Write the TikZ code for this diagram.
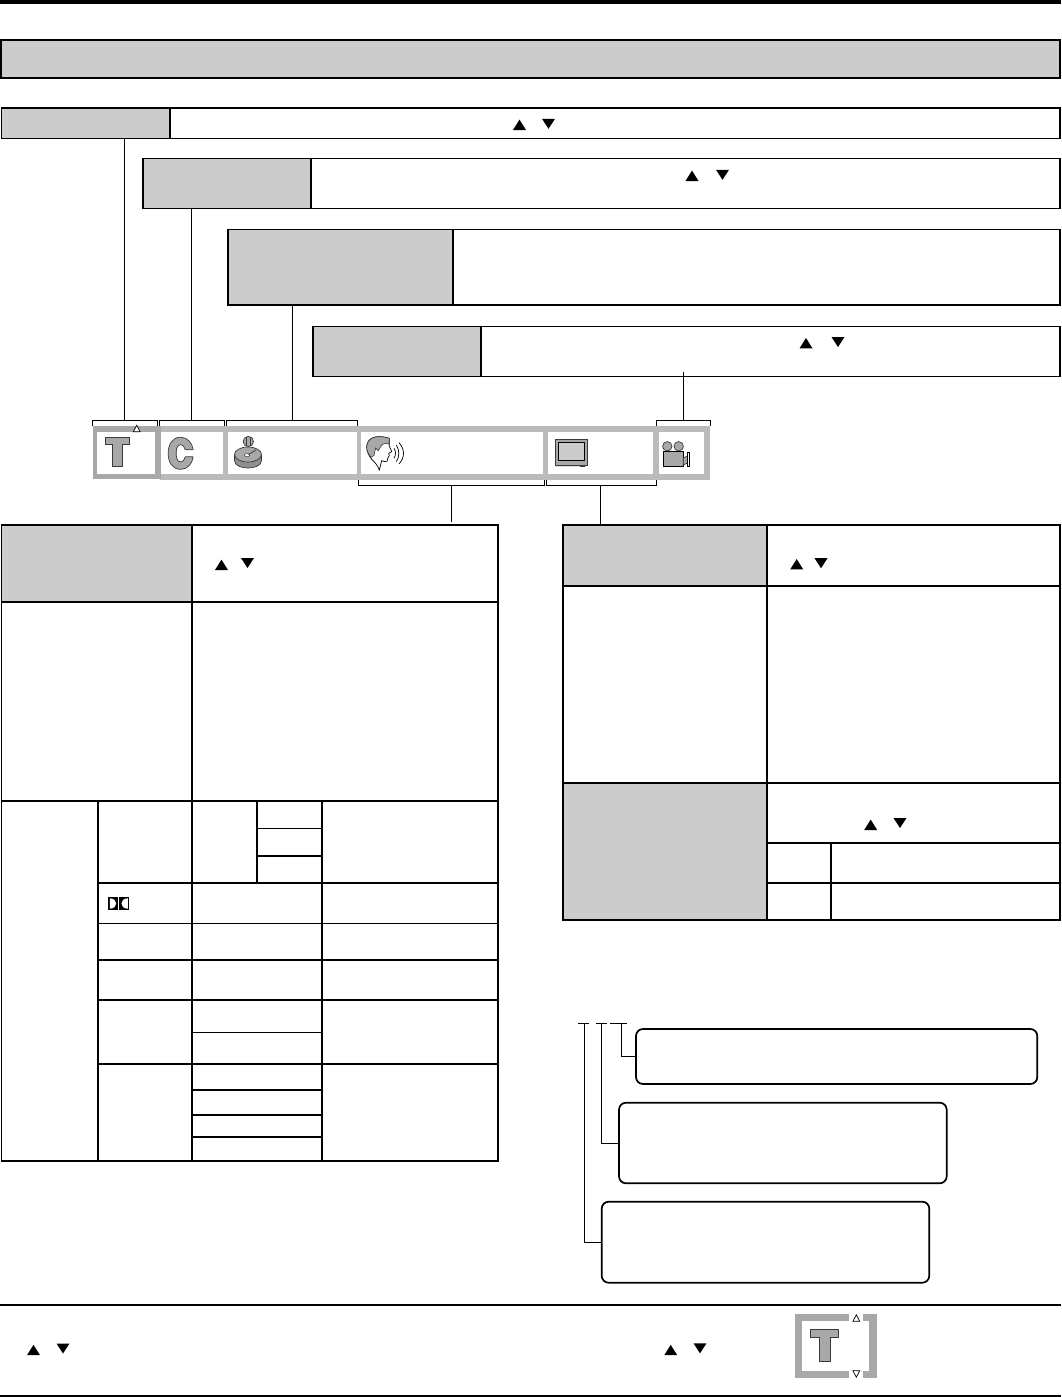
\documentclass[tikz,border=0pt]{standalone}
\usetikzlibrary{calc}
\definecolor{cellgray}{HTML}{CCCCCC}
\definecolor{barlight}{HTML}{BBBBBB}
\definecolor{bardark}{HTML}{A8A8A8}
\definecolor{iconedge}{HTML}{3A3A3A}
\tikzset{
  x=1pt,y=-1pt,
  boxline/.style={draw=black,line width=1.1pt,inner sep=0pt,outer sep=0pt},
  heavybox/.style={draw=black,line width=2pt,inner sep=0pt,outer sep=0pt},
  graycell/.style={fill=cellgray},
  whitecell/.style={fill=white},
  roundbox/.style={draw=black,line width=1.7pt,rounded corners=7pt,fill=white,inner sep=0pt,outer sep=0pt},
  lead/.style={draw=black,line width=1pt},
  grid/.style={draw=black,line width=1.8pt},
  gridthin/.style={draw=black,line width=1pt},
  rule/.style={draw=black,line width=2pt},
  icon/.style={fill=bardark,draw=iconedge,line width=.7pt},
  slot/.style={fill=white,draw=none,inner sep=0pt,outer sep=0pt},
}
% \rectnode{name}{x1}{y1}{x2}{y2}{style}
\newcommand{\rectnode}[6]{%
  \pgfmathsetmacro{\rw}{#4-(#2)}\pgfmathsetmacro{\rh}{#5-(#3)}%
  \pgfmathsetmacro{\rx}{(#2+#4)/2}\pgfmathsetmacro{\ry}{(#3+#5)/2}%
  \node[#6,minimum width=\rw pt,minimum height=\rh pt] (#1) at (\rx,\ry) {};}
\newcommand{\triup}[2]{\fill[black] (#1-6.5,#2+5.2) -- (#1+6.5,#2+5.2) -- (#1,#2-5.2) -- cycle;}
\newcommand{\tridown}[2]{\fill[black] (#1-6.5,#2-5) -- (#1+6.5,#2-5) -- (#1,#2+5) -- cycle;}
\newcommand{\triopenup}[2]{\draw[black,fill=white,line width=.7pt] (#1-3.4,#2+3.2) -- (#1+3.4,#2+3.2) -- (#1,#2-3.2) -- cycle;}
\newcommand{\triopendown}[2]{\draw[black,fill=white,line width=.7pt] (#1-3.4,#2-3.2) -- (#1+3.4,#2-3.2) -- (#1,#2+3.2) -- cycle;}
\begin{document}
\begin{tikzpicture}
\useasboundingbox (0,0) rectangle (1061,1397);
\fill[white] (0,0) rectangle (1061,1397);
\fill[black] (0,0) rectangle (1061,4);

% header
\rectnode{head}{1.2}{40}{1059.9}{78}{heavybox,graycell}

% stacked rows
\rectnode{rowA}{1.3}{108}{1060}{138.3}{boxline,whitecell}
\rectnode{rowAh}{1.3}{108}{170}{138.3}{boxline,graycell}
\rectnode{rowB}{143}{158.5}{1060}{208.3}{boxline,whitecell}
\rectnode{rowBh}{143}{158.5}{311}{208.3}{boxline,graycell}
\rectnode{rowC}{228}{229.7}{1060}{305}{boxline,whitecell}
\rectnode{rowCh}{228}{229.7}{453}{305}{boxline,graycell}
\rectnode{rowD}{313}{326.5}{1060}{376.3}{boxline,whitecell}
\rectnode{rowDh}{313}{326.5}{481}{376.3}{boxline,graycell}

\triup{519.5}{124.8}\tridown{548.5}{123.8}
\triup{692}{175.8}\tridown{722.5}{174.8}
\triup{806}{343.2}\tridown{838}{342}

% menu bar
\fill[barlight] (160,426) rectangle (710,479.5);
\fill[bardark] (92.5,426) rectangle (160.5,479);
\rectnode{slotT}{97}{431.7}{155}{474}{slot}
\rectnode{slotC}{161}{431.7}{223}{474}{slot}
\rectnode{slotK}{228}{431.7}{356.5}{474}{slot}
\rectnode{slotS}{361}{431.7}{542.6}{474}{slot}
\rectnode{slotV}{548}{431.7}{653}{474}{slot}
\rectnode{slotM}{659}{431.7}{704.3}{474}{slot}
\triopenup{136.7}{428.5}

% upper brackets
\draw[lead] (92.7,426) -- (92.7,420) -- (157.5,420) -- (157.5,426);
\draw[lead] (159.7,426) -- (159.7,420) -- (224.8,420) -- (224.8,426);
\draw[lead] (226.8,426) -- (226.8,420) -- (357.5,420) -- (357.5,426);
\draw[lead] (656.7,426) -- (656.7,420) -- (710,420) -- (710,426);
\coordinate (brT) at (124,420);
\coordinate (brC) at (191,420);
\coordinate (brK) at (292,420);
\coordinate (brM) at (683,420);
\coordinate (rowDstub) at (683,372);
\draw[lead] (brT) -- (brT |- rowA.south);
\draw[lead] (brC) -- (brC |- rowB.south);
\draw[lead] (brK) -- (brK |- rowC.south);
\draw[lead] (brM) -- (rowDstub);

% lower brackets
\draw[lead] (358.8,480) -- (358.8,485) -- (544.7,485) -- (544.7,480);
\draw[lead] (546.8,480) -- (546.8,485) -- (656,485) -- (656,480);
\coordinate (brS) at (451.8,485);
\coordinate (brV) at (600.7,485);
\coordinate (stubS) at (451.8,521.5);

% left table
\rectnode{ltA}{1.5}{525}{192}{602}{grid,graycell}
\rectnode{ltB}{192}{525}{498}{602}{grid,whitecell}
\rectnode{ltOuter}{1.5}{602}{498}{1160.7}{grid,whitecell}
\draw[lead] (brS) -- (stubS);
\draw[grid] (0.5,602) -- (1.5,602);
\draw[grid] (192,602) -- (192,801);
\draw[grid] (0.5,801) -- (498,801);
\draw[grid] (98,801) -- (98,1160.7);
\draw[grid] (192,801) -- (192,1160.7);
\draw[grid] (257,801) -- (257,882.7);
\draw[grid] (322,801) -- (322,1160.7);
\draw[gridthin] (257,828.3) -- (322,828.3);
\draw[grid] (257,855.7) -- (322,855.7);
\draw[grid] (98,882.7) -- (498,882.7);
\draw[gridthin] (98,923.3) -- (498,923.3);
\draw[grid] (98,960) -- (498,960);
\draw[grid] (98,1000) -- (498,1000);
\draw[gridthin] (192,1032.3) -- (322,1032.3);
\draw[grid] (98,1064) -- (498,1064);
\draw[grid] (192,1090) -- (322,1090);
\draw[grid] (192,1115) -- (322,1115);
\draw[grid] (192,1137) -- (322,1137);
\triup{221.5}{564.8}\tridown{247.5}{563}

% double-D mark
\fill[black] (108.3,897) rectangle (118.2,910);
\fill[black] (119.4,897) rectangle (129.3,910);
\fill[white] (109.8,898.3) .. controls (118.3,898.6) and (118.3,908.4) .. (109.8,908.7) -- cycle;
\fill[white] (127.8,898.3) .. controls (119.3,898.6) and (119.3,908.4) .. (127.8,908.7) -- cycle;

% right table
\rectnode{rtA}{563}{525}{767}{586}{grid,graycell}
\rectnode{rtB}{767}{525}{1060}{586}{grid,whitecell}
\rectnode{rtC}{563}{586}{767}{783}{grid,whitecell}
\rectnode{rtD}{767}{586}{1060}{783}{grid,whitecell}
\rectnode{rtE}{563}{783}{767}{920}{grid,graycell}
\rectnode{rtF}{767}{783}{1060}{843}{grid,whitecell}
\rectnode{rtG}{767}{843}{831}{883}{grid,whitecell}
\rectnode{rtH}{831}{843}{1060}{883}{grid,whitecell}
\rectnode{rtI}{767}{883}{831}{920}{grid,whitecell}
\rectnode{rtJ}{831}{883}{1060}{920}{grid,whitecell}
\draw[lead] (brV) -- (brV |- rtA.north);
\triup{796.7}{564.2}\tridown{821}{563.2}
\triup{870.7}{824.8}\tridown{900}{823}

% rounded notes and their leaders
\rectnode{noteA}{636}{1029}{1037.3}{1084}{roundbox}
\rectnode{noteB}{619}{1102.7}{946.7}{1183.3}{roundbox}
\rectnode{noteC}{601.7}{1201.7}{929.3}{1282.7}{roundbox}
\coordinate (tickA) at (621.7,1023.3);
\coordinate (tickB) at (601.7,1023.3);
\coordinate (tickC) at (584.3,1023.3);
\draw[lead] (610,1023.3) -- (626.7,1023.3);
\draw[lead] (596,1023.3) -- (606.7,1023.3);
\draw[lead] (578,1023.3) -- (589.3,1023.3);
\draw[lead] (tickA) |- (noteA.west);
\draw[lead] (tickB) |- (noteB.west);
\draw[lead] (tickC) |- (noteC.west);

% bottom band
\draw[rule] (0,1305) -- (1061,1305);
\draw[rule] (0,1396) -- (1061,1396);
\triup{33.5}{1350}\tridown{63}{1348.5}
\triup{670.7}{1350}\tridown{700}{1348.3}
\fill[bardark] (795,1314) rectangle (876.7,1377.7);
\fill[white] (801.7,1321) rectangle (869,1370.7);
\fill[white] (849.3,1314) rectangle (863.3,1378);
\triopenup{856.3}{1318}
\triopendown{856.3}{1374}
\draw[icon] (810.7,1329) -- (838.7,1329) -- (838.7,1337.3) -- (830,1337.3) -- (830,1361.7) -- (819.3,1361.7) -- (819.3,1337.3) -- (810.7,1337.3) -- cycle;

% T icon
\draw[icon] (105,437.7) -- (129,437.7) -- (129,444.3) -- (122.7,444.3) -- (122.7,466.3) -- (112.7,466.3) -- (112.7,444.3) -- (105,444.3) -- cycle;

% C icon
\begin{scope}[shift={(180.7,453.3)},y=1pt]
\draw[icon,rounded corners=.5pt] (4.4,3.5) -- (12.5,3.5) .. controls (11.5,10) and (7,16) .. (0,16)
  .. controls (-8,16) and (-12.5,9) .. (-12.5,0)
  .. controls (-12.5,-9) and (-8,-16) .. (0,-16)
  .. controls (7,-16) and (11.5,-10) .. (12.5,-3.5) -- (4.4,-3.5)
  .. controls (4,-6.5) and (2,-8.5) .. (0,-8.5)
  .. controls (-3,-8.5) and (-4.5,-5) .. (-4.5,0)
  .. controls (-4.5,5) and (-3,8.5) .. (0,8.5)
  .. controls (2,8.5) and (4,6.5) .. (4.4,3.5) -- cycle;
\end{scope}

% clock icon
\draw[icon] (248.3,441.5) circle[radius=5.2];
\draw[iconedge,line width=.6pt] (246.3,437) -- (246.3,446) (250.3,437) -- (250.3,446);
\draw[icon,fill=bardark!85!black] (234.5,455) -- (234.5,460.5) .. controls (234.5,470.5) and (261.5,470.5) .. (261.5,460.5) -- (261.5,455) -- cycle;
\draw[icon] (248,454.5) ellipse[x radius=13.5,y radius=7.5];
\fill[white,draw=iconedge,line width=.5pt] (247,455.2) ellipse[x radius=2.6,y radius=1.6];
\draw[iconedge,line width=.7pt] (248.5,454.5) -- (256,450);

% speaking head icon
\begin{scope}[shift={(355,420)},x=.3333pt,y=-.3333pt]
\draw[black,fill=white,line width=.7pt] (103,55) .. controls (104,65) and (102,72) .. (103,78)
  -- (110,95) -- (101,100) -- (103,107) -- (99,113) -- (96,124)
  .. controls (90,126) and (85,124) .. (80,122) -- (73,150)
  .. controls (68,138) and (62,128) .. (50,118)
  .. controls (42,108) and (35,95) .. (35,80)
  .. controls (37,55) and (60,42) .. (103,55) -- cycle;
\draw[icon,line width=.6pt] (103,55) .. controls (104,63) and (102,68) .. (101,72)
  .. controls (90,68) and (80,72) .. (76,82)
  -- (70,92) -- (62,84) -- (57,106)
  -- (48,112) .. controls (40,102) and (35,92) .. (35,80)
  .. controls (37,55) and (60,42) .. (103,55) -- cycle;
\draw[black,line width=.7pt] (117,85) .. controls (123,95) and (123,105) .. (117,115);
\draw[black,line width=.7pt] (124,75) .. controls (134,90) and (134,110) .. (124,125);
\draw[black,line width=.7pt] (132,68) .. controls (150,88) and (150,112) .. (132,132);
\end{scope}

% monitor icon
\fill[bardark!40] (556,463) rectangle (586,467);
\draw[icon] (555,439) rectangle (587,465);
\draw[black,fill=cellgray,line width=.7pt] (558.7,442.7) rectangle (584.7,460.7);
\fill[iconedge] (580,465) rectangle (585,466.5);

% camera icon
\draw[icon] (667.3,446.3) circle[radius=4.7];
\draw[icon] (678.7,446.3) circle[radius=4.7];
\draw[black,fill=bardark,line width=.8pt] (663.3,451) rectangle (683.3,466.3);
\draw[iconedge,fill=bardark,line width=.7pt] (683.3,458) -- (687.5,456) -- (687.5,463) -- (683.3,465) -- cycle;
\draw[black,fill=white,line width=.8pt] (687.5,452) rectangle (689.8,466.5);
\end{tikzpicture}
\end{document}
